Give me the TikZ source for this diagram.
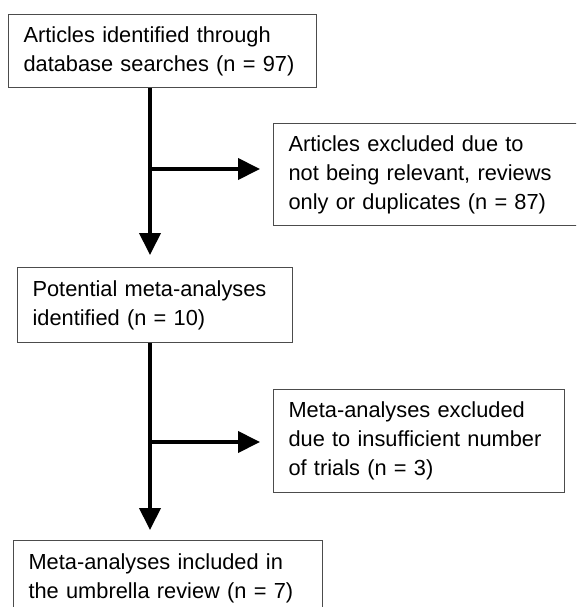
\documentclass[tikz,border=0pt]{standalone}
\usepackage{fontspec}
\setmainfont{Liberation Sans}
\usetikzlibrary{arrows.meta}
\tikzset{
  box/.style={draw=black!70, line width=1.1pt, fill=white, align=left,
    inner xsep=15pt, inner ysep=0pt, anchor=north west,
    font=\fontsize{21.8}{29}\selectfont},
  arr/.style={line width=4pt, -{Triangle[width=21pt,length=22pt]}},
  seg/.style={line width=4pt}
}
\begin{document}
\begin{tikzpicture}[x=1pt,y=-1pt]
\useasboundingbox (0,0) rectangle (576,607);
\clip (0,0) rectangle (576,607);
\node[box, minimum width=308pt, minimum height=73pt, text width=278pt] (b1) at (8,14)
  {Articles identified through\\database searches (n = 97)};
\node[box, minimum width=310pt, minimum height=102pt, text width=280pt] (b2) at (273,123)
  {Articles excluded due to\\not being relevant, reviews\\only or duplicates (n = 87)};
\node[box, minimum width=275pt, minimum height=75pt, text width=245pt] (b3) at (17,267)
  {Potential meta-analyses\\identified (n = 10)};
\node[box, minimum width=291pt, minimum height=103pt, text width=261pt] (b4) at (273,389)
  {Meta-analyses excluded\\due to insufficient number\\of trials (n = 3)};
\node[box, minimum width=309pt, minimum height=76pt, text width=279pt] (b5) at (13,540)
  {Meta-analyses included in\\the umbrella review (n = 7)};
\coordinate (t1) at (150,255);
\coordinate (j1) at (150,169);
\coordinate (h1) at (260,169);
\coordinate (t2) at (150,530);
\coordinate (j2) at (150,442);
\coordinate (h2) at (260,442);
\draw[arr] (b1.south -| t1) -- (t1);
\draw[arr] (j1) -- (h1);
\draw[arr] (b3.south -| t2) -- (t2);
\draw[arr] (j2) -- (h2);
\end{tikzpicture}
\end{document}
